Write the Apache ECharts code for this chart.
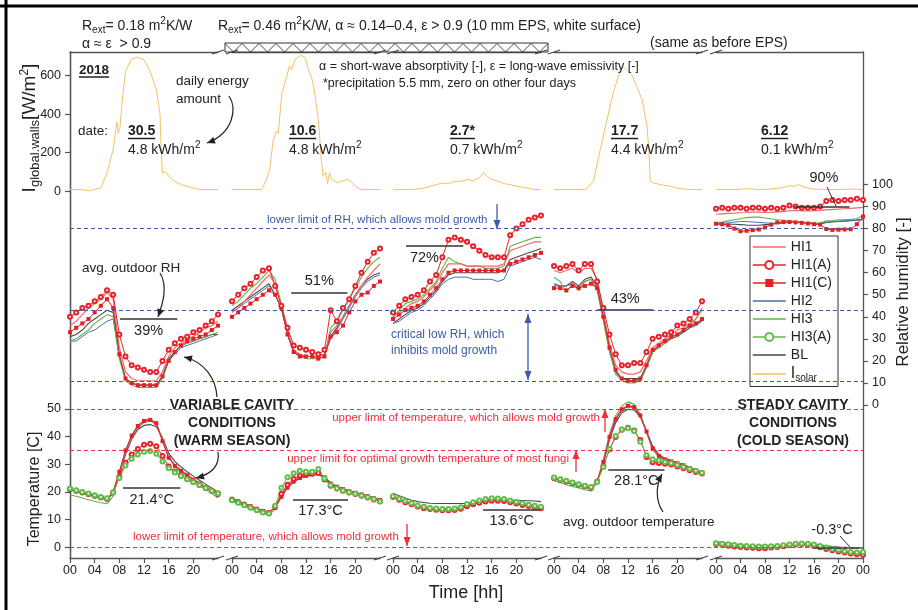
<!DOCTYPE html>
<html><head><meta charset="utf-8">
<script src="https://cdn.jsdelivr.net/npm/echarts@6/dist/echarts.min.js"></script>
<style>html,body{margin:0;padding:0;background:#fff}#c{width:918px;height:610px}</style>
</head><body><div id="c"></div>
<script>
// ---------------- DATA ----------------
const HOURS = [0,1,2,3,4,5,6,7,8,9,10,11,12,13,14,15,16,17,18,19,20,21,22,23,24];
const DATES = ['30.5','10.6','2.7*','17.7','6.12'];
const ENERGY = ['4.8','4.8','0.7','4.4','0.1'];
const I_TICKS = [0,200,400,600];
const RH_TICKS = [0,10,20,30,40,50,60,70,80,90,100];
const T_TICKS = [0,10,20,30,40,50];
const X_TICKS = [0,4,8,12,16,20];
const X_TICKS_LAST = [0,4,8,12,16,20,24];
const AVG_RH = [39,51,72,43,90];
const AVG_T = [21.4,17.3,13.6,28.1,-0.3];
const RH_LIMITS = [80,43,10.6];
const T_LIMITS = [50,35,0];

// relative humidity [%], hourly, one row per day
const RH_HI1A = [
 [40,42,44,45,47,49,52,50,32,22,18,17,16,15,15,20,25,28,30,31,33,34,36,38,41],
 [47,50,53,55,58,61,62,54,45,35,27,26,25,24,23,25,43,38,44,48,54,60,65,69,71],
 [42,45,48,49,50,52,56,59,67,75,76,75,74,72,70,68,67,67,67,77,80,82,84,85,86],
 [63,62,63,64,61,64,64,56,44,32,23,18,18,19,19,24,30,31,32,33,36,37,39,42,47],
 [89,89.5,89,89.5,89.5,89,89.5,89.5,89,89.5,89,89.5,90.5,90,89.5,89.5,89.5,90,92.5,93,92.5,93,93,93.5,93]
];
const RH_HI1 = [
 [36,38,41,44,46,48,51,48,26,15,12,11,11,11,11,15,22,26,28,30,31,33,35,36,38],
 [42,44,47,50,53,56,59,55,45,33,25,23,22,22,22,23,33,36,40,45,50,54,58,61,64],
 [40,42,44,46,47,49,52,55,60,64,64,64,63,63,63,63,63,63,64,70,71,72,73,74,74],
 [61,60,61,62,60,62,62,57,42,28,18,15,14,14,15,20,26,28,30,32,34,35,37,39,44],
 [86.5,86.7,86.9,87,87.2,87.3,87.5,87.5,87.3,87.4,87.6,87.8,88,88.2,88,88,88.1,88.3,88.5,88.7,88.8,89,89.2,89.4,89.6]
];
const RH_HI1C = [
 [33,35,37,39,42,45,48,44,23,12,10,9,9,9,9,13,20,24,27,29,30,31,32,34,36],
 [40,42,44,46,48,50,52,50,44,32,24,22,22,22,21,22,31,33,36,42,47,50,51,54,56],
 [39,41,43,44,45,47,50,53,57,60,61,61,61,61,61,61,61,61,61,64,65,66,67,68,69],
 [53,53,52,54,53,54,55,53,40,26,16,12,11,11,12,18,25,27,29,31,32,34,36,37,39],
 [82.2,82,81.5,80,78.8,79,79.3,79.6,80.5,81.8,82.8,83,83,82.8,82.6,82.3,82,81.8,79.8,79.4,79.5,79.6,79.7,82,85.5]
];
const RH_HI2 = [
 [29,29,31,33,34,36,38,39,22,12,10,9,9,9,9,13,20,23,26,27,28,29,30,31,32],
 [42,44,46,48,50,52,54,50,44,32,24,22,22,22,22,23,30,34,39,44,49,53,56,58,59],
 [37,38,40,42,43,45,48,51,55,57,58,58,58,57,57,57,57,56,57,63,64,65,66,67,66],
 [54,54,54,55,53,56,57,53,40,25,15,12,11,11,11,17,24,26,28,30,31,33,35,36,38],
 [82.4,82.5,82.6,83,83.2,83.2,83,82.8,82.6,82.4,82.5,82.8,83,83,82.8,82.6,82.4,82.3,83,83.2,83.4,83.5,83.7,84,84.3]
];
const RH_HI3 = [
 [29,30,32,34,37,39,41,40,21,11,9,8,8,8,8,12,20,24,27,28,29,30,31,32,33],
 [45,47,50,53,55,58,61,57,46,33,24,22,21,21,21,22,35,38,43,48,53,58,62,65,67],
 [40,43,46,47,48,50,53,56,62,67,65,64,63,63,63,62,62,62,63,72,73,74,75,76,76],
 [58,56,51,55,52,56,57,52,38,24,14,11,10,10,11,17,24,26,28,30,32,34,36,39,43],
 [82.7,83,83.5,84,84.5,85,85.2,85.2,84.8,84.5,84,83.8,83.5,83.3,83,82.8,82.6,82.5,83.5,83.7,84,84,84.2,84.5,86]
];
const RH_BL = [
 [31,32,34,37,39,41,43,42,22,12,10,9,9,9,9,13,21,24,27,28,29,30,31,32,32],
 [43,45,47,49,51,53,55,50,44,32,24,23,22,22,22,23,31,35,40,45,50,54,57,59,60],
 [37,39,41,43,44,46,49,52,56,59,60,60,60,60,60,60,60,60,61,66,67,68,69,70,71],
 [55,54,54,56,54,57,58,54,40,25,15,12,12,12,12,18,24,27,29,30,32,33,35,37,38],
 [82,82,82,82,81.8,81.6,81.5,81.5,81.8,82,82.3,82.6,83,83,82.8,82.5,82.3,82,82.8,83,83.2,83.4,83.6,83.8,84]
];

// temperature [C], hourly, one row per day
const T_HI1 = [
 [20.9,20.3,19.7,19.1,18.5,17.9,17.4,20.2,27,34.5,39.8,43.3,45.3,45.8,44.5,38.5,32.5,29.6,27.8,26.1,24.6,23.2,21.8,20.4,19],
 [17.3,16.4,15.5,14.6,13.7,12.9,12.5,14.5,18.8,22,24,25.2,25.9,26.3,26.6,25,22.8,21.7,20.8,20.1,19.5,18.9,18.3,17.6,16.9],
 [18.3,17.4,16.5,15.7,14.9,14.4,14.1,13.9,13.7,13.8,13.9,14.3,15.3,15.9,16.5,16.9,17.1,17.1,17,16.6,16.1,15.6,15.2,14.8,14.4],
 [24.9,24.3,23.7,23.1,22.5,21.9,21.4,24,31,40,46.5,50,51.2,50.6,47.5,41.5,35.5,32.8,31.6,30.9,30.3,29.6,28.6,27.8,26.8],
 [1.4,1.2,1,0.8,0.6,0.4,0.3,0.2,0.2,0.3,0.4,0.6,0.8,1.1,1.2,1.1,0.8,0.3,-0.3,-0.8,-1.2,-1.6,-1.9,-2.2,-2.4]
];
const T_HI1C = [
 [20.8,20.2,19.6,19,18.4,17.8,17.3,20,27.3,35,40.3,43.8,45.6,46,44.8,38.3,32.3,29.4,27.6,26,24.4,23,21.6,20.2,18.9],
 [17.5,16.6,15.7,14.8,13.9,13.1,12.7,14.2,18.2,21.5,23.7,25,25.8,26.3,26.8,25.3,23,21.9,21,20.3,19.7,19.1,18.5,17.8,17.1],
 [18.4,17.5,16.6,15.8,15,14.5,14.2,14,13.8,13.9,14,14.4,15.4,16,16.6,17,17.2,17.2,17.1,16.7,16.2,15.7,15.3,14.9,14.5],
 [24.8,24.2,23.6,23,22.4,21.8,21.3,23.8,30.8,39.8,46.3,49.8,51.1,50.6,47.6,41.8,35.8,33,31.7,31,30.3,29.6,28.6,27.8,26.8],
 [1.5,1.3,1.1,0.9,0.7,0.5,0.4,0.3,0.3,0.4,0.5,0.7,0.9,1.2,1.3,1.2,0.9,0.4,-0.2,-0.7,-1.1,-1.5,-1.8,-2.1,-2.3]
];
const T_HI2 = [
 [20.7,20.1,19.5,18.9,18.3,17.7,17.2,19.6,26.5,34,39.5,43,45,45.6,44.3,38.8,32.8,29.8,28,26.3,24.7,23.3,21.9,20.5,19.1],
 [17.3,16.4,15.5,14.6,13.7,12.9,12.4,14.4,18.6,21.8,23.8,25,25.7,26.1,26.4,24.8,22.6,21.5,20.6,19.9,19.3,18.7,18.1,17.4,16.7],
 [18.3,17.4,16.5,15.7,14.9,14.4,14.1,13.9,13.7,13.8,13.9,14.3,15.3,15.9,16.5,16.9,17.1,17.1,17,16.6,16.1,15.6,15.2,14.8,14.4],
 [24.6,24,23.4,22.8,22.2,21.6,21.1,23.6,30.5,39.5,46,49.5,50.8,50.3,47.2,41.5,35.5,32.8,31.5,30.8,30.2,29.5,28.5,27.7,26.6],
 [1.4,1.2,1,0.8,0.6,0.4,0.3,0.2,0.2,0.3,0.4,0.6,0.8,1.1,1.2,1.1,0.8,0.3,-0.3,-0.8,-1.2,-1.6,-1.9,-2.2,-2.4]
];
const T_HI3 = [
 [19,18.4,17.8,17.2,16.6,16.1,15.7,18.5,26.5,35,40.5,44,46,46.4,45,38.5,32.5,29.2,27,25.3,23.8,22.4,20.9,19.4,17.8],
 [16.6,15.7,14.8,13.9,13,12.2,11.7,13.7,18.6,22.2,24.3,25.5,26.2,26.5,26.7,24.9,22.6,21.4,20.5,19.8,19.2,18.6,18,17.3,16.5],
 [18.2,17.3,16.4,15.6,14.8,14.3,14,13.8,13.6,13.7,13.8,14.2,15.2,15.8,16.4,16.8,17,17,16.9,16.5,16,15.5,15.1,14.7,14.3],
 [24,23.3,22.6,22,21.4,20.8,20.3,23.5,31.5,41,47.5,51,52.5,51.6,48,41.8,35.3,32.5,31.3,30.6,30,29.3,28.3,27.4,26.3],
 [1.3,1.1,0.9,0.7,0.5,0.3,0.2,0.1,0.1,0.2,0.3,0.5,0.7,1,1.1,1,0.7,0.2,-0.4,-0.9,-1.3,-1.7,-2,-2.3,-2.5]
];
const T_BL = [
 [20.8,20.2,19.6,19,18.4,17.8,17.3,19.5,26,33.5,39,42.5,44,44.3,43.5,39.5,34,31,29,27.3,25.7,24.2,22.8,21.3,19.9],
 [17.6,16.7,15.8,14.9,14,13.2,12.8,14.4,18.3,21.5,23.6,24.9,25.6,26,26.3,25.2,23.3,22,21.1,20.4,19.8,19.2,18.6,17.9,17.2],
 [19.5,18.6,17.8,17,16.5,16.2,15.9,15.8,15.8,15.8,15.8,15.8,15.9,16.3,16.7,17.1,17.3,17.2,17.1,17,17,16.9,16.8,16.7,16.5],
 [25,24.4,23.8,23.2,22.6,22,21.5,23.8,30.3,38.8,45,48.6,49.8,49.6,47,42,36.5,33.5,32.1,31.3,30.6,29.9,28.9,28.1,27.1],
 [2,1.7,1.4,1.1,0.9,0.7,0.6,0.5,0.5,0.5,0.6,0.7,0.9,1.1,1.2,1.2,1.1,0.8,0.5,0.3,0.1,0,-0.1,-0.2,-0.3]
];
const T_HI1A = [
 [21,20.4,19.8,19.2,18.6,18,17.5,19.8,25.5,30.5,33.5,35.5,37,37.4,36.5,33,29.2,27.4,25.9,24.7,23.6,22.5,21.4,20.4,19.4],
 [17.2,16.3,15.4,14.5,13.6,12.8,12.4,14.6,19.2,22.6,24.7,25.9,26.4,26.6,26.8,24.5,22.2,21.2,20.4,19.8,19.2,18.6,18,17.3,16.6],
 [18.2,17.2,16.3,15.5,14.7,14.1,13.8,13.6,13.4,13.4,13.5,13.9,14.8,15.5,16.1,16.5,16.8,16.8,16.7,16.3,15.8,15.3,14.9,14.5,14.1],
 [25,24.4,23.8,23.2,22.6,22,21.5,23.8,29.3,35.3,39.8,42.4,43.2,42.2,38.7,32.6,30.7,30.4,30.2,29.9,29.2,28.5,27.8,27.2,26.6],
 [1.2,0.9,0.6,0.3,0.1,-0.1,-0.2,-0.3,-0.3,-0.1,0.1,0.4,0.7,1,1.1,0.9,0.5,0,-0.6,-1.1,-1.5,-1.9,-2.2,-2.5,-2.7]
];
const T_HI3A = [
 [21.2,20.6,20,19.4,18.8,18.2,17.7,19.8,25,29.5,32,33.5,34.5,34.8,33.8,31,28.5,27,25.7,24.6,23.6,22.5,21.4,20.4,19.4],
 [17,16.1,15.2,14.3,13.4,12.6,12.2,15,21.5,25.3,26.7,27.6,27.3,27.3,28.3,24.8,22.4,21.3,20.5,19.9,19.3,18.7,18.1,17.4,16.5],
 [18.4,17.5,16.7,15.9,15.1,14.6,14.2,14,13.8,13.8,14,14.5,15.6,16.3,16.9,17.4,17.7,17.6,17.4,16.9,16.4,15.9,15.4,15,14.6],
 [25.2,24.6,24,23.4,22.8,22.2,21.8,23.6,29,35.5,40.2,42.5,43,42,38.1,33.2,31.8,31.3,30.8,30.3,29.7,29,28.3,27.6,26.9],
 [1.5,1.3,1.1,0.8,0.6,0.5,0.4,0.3,0.3,0.4,0.5,0.7,1,1.3,1.4,1.3,1,0.5,-0.1,-0.6,-1,-1.4,-1.7,-1.9,-1.7]
];

// global irradiance on walls [W/m2], [hour, value]
const SOLAR = [
 [[0,10],[2,8],[3,2],[4,10],[5,18],[6,95],[7,216],[7.6,360],[7.8,300],[8.1,330],[8.5,480],[9,622],[10,686],[11,696],[12,682],[13,622],[14,527],[14.6,400],[14.8,200],[15,95],[15.5,103],[16,78],[17,52],[18,35],[19,26],[20,17],[21,9],[24,9]],
 [[0,9],[4.8,9],[5.1,17],[5.6,61],[6.1,112],[6.7,268],[7.2,311],[7.5,300],[8.1,510],[8.9,596],[9.3,650],[9.7,631],[10.2,682],[10.8,699],[11.3,703],[11.5,712],[11.9,691],[12.4,631],[13,579],[13.5,492],[14,371],[14.5,156],[14.8,78],[15.2,100],[15.5,40],[15.8,95],[16.2,61],[17,45],[17.8,52],[18.6,61],[19.3,50],[20,26],[21,9],[24,9]],
 [[0,9],[3,9],[5,17],[6,26],[7,35],[8,43],[9,40],[10,52],[11,52],[12,61],[13,55],[14,70],[14.7,98],[15.2,80],[16,62],[17,52],[18,40],[19,35],[20,26],[21,22],[22,15],[23,9],[24,9]],
 [[0,9],[5,9],[5.5,20],[6.4,52],[7.5,216],[8.6,371],[9.6,510],[10.7,622],[11.1,650],[11.4,639],[11.8,630],[12.6,605],[13.4,544],[14.3,475],[15.1,337],[15.4,200],[15.6,52],[16.2,43],[17.2,35],[18,30],[19,26],[19.9,17],[21,12],[22.7,9],[24,9]],
 [[0,9],[3,9],[5,14],[7,9],[9,12],[11,20],[12,30],[12.7,26],[13.5,35],[14.5,20],[16,12],[18,10],[20,9],[22,12],[24,9]]
];

// ---------------- LAYOUT / STYLE ----------------
const FONT = 'Liberation Sans, Arial, Helvetica, sans-serif';
const GRID_LEFT = [70,232,393,554,716];
const GRID_W = [148,148,148,148,147];
const TOP = 52, H = 506;
const AX = {lineStyle:{color:'#555', width:1.3}};
const I_RANGE = [-1900, 722];
const RH_RANGE = [-69.4, 160.1];
const T_RANGE = [-3.86, 178.8];
const AVG_RH_SPAN = [[8.1,17.4],[9.6,18.7],[2.1,11.4],[7,16.1],[12.8,21.8]];
const AVG_T_SPAN = [[8.6,17.9],[9.9,18.8],[14.6,23.9],[8.8,17.9],[16.1,23.4]];
const AVG_RH_POS = ['insideMiddleBottom','insideMiddleTop','insideStartBottom','insideMiddleTop',null];
const AVG_T_POS = ['insideMiddleBottom','insideMiddleBottom','insideMiddleBottom','insideMiddleBottom',null];
const DATE_OFF = [58,57,57,57,45];
const BLUE = '#3e5ba8', RED = '#ee2f3b', INK = '#222';
const LINE_ICON = 'path://M0,0L33,0L33,1.6L0,1.6Z';

const STYLE = {
 'HI1':{color:'#f06a6a', symbol:'none', width:1.2},
 'HI1(A)':{color:'#e8222b', symbol:'emptyCircle', size:4, width:1},
 'HI1(C)':{color:'#e41f26', symbol:'rect', size:4, width:1},
 'HI2':{color:'#4b6db5', symbol:'none', width:1},
 'HI3':{color:'#58b947', symbol:'none', width:1.1},
 'HI3(A)':{color:'#62bd4a', symbol:'emptyCircle', size:4, width:1},
 'BL':{color:'#4a4a4a', symbol:'none', width:1.1},
 'Isolar':{color:'#f2c165', symbol:'none', width:1}
};

// ---------------- BUILD ----------------
const grid = [], xAxis = [], yAxis = [], series = [];
for (let d=0; d<5; d++) grid.push({left:GRID_LEFT[d], top:TOP, width:GRID_W[d], height:H});
grid.push({left:GRID_LEFT[0], top:TOP, width:GRID_LEFT[4]+GRID_W[4]-GRID_LEFT[0], height:H});

for (let d=0; d<5; d++) {
  const tv = d===4 ? X_TICKS_LAST : X_TICKS;
  xAxis.push({gridIndex:d, type:'value', min:0, max:24, position:'bottom',
    axisLine:{show:true, onZero:false, ...AX}, splitLine:{show:false},
    axisTick:{show:true, customValues:tv, length:5, lineStyle:{color:'#555', width:1.2}},
    axisLabel:{customValues:tv, formatter:v=>String(v%24).padStart(2,'0'), fontSize:12.5, color:INK, margin:6, fontFamily:FONT}});
}
for (let d=0; d<5; d++) {
  xAxis.push({gridIndex:d, type:'value', min:0, max:24, position:'top',
    axisLine:{show:true, onZero:false, ...AX}, axisTick:{show:false}, axisLabel:{show:false}, splitLine:{show:false}});
}
xAxis.push({gridIndex:5, type:'value', min:0, max:1, show:false});

function yax(d, range, pos, ticks, show) {
  return {gridIndex:d, type:'value', min:range[0], max:range[1], position:pos, show:show,
    axisLine:{show:true, onZero:false, ...AX}, splitLine:{show:false},
    axisTick:{show:true, customValues:ticks, length:5, lineStyle:{color:'#555', width:1.2}},
    axisLabel:{customValues:ticks, fontSize:12.5, color:INK, margin:9, fontFamily:FONT}};
}
for (let d=0; d<5; d++) {
  yAxis.push(yax(d, I_RANGE, 'left', I_TICKS, d===0));
  yAxis.push(yax(d, RH_RANGE, 'right', RH_TICKS, d===4));
  yAxis.push(yax(d, T_RANGE, 'left', T_TICKS, d===0));
}
yAxis.push({gridIndex:5, type:'value', min:RH_RANGE[0], max:RH_RANGE[1], show:false});
yAxis.push({gridIndex:5, type:'value', min:T_RANGE[0], max:T_RANGE[1], show:false});

function mk(name, d, yIdx, data) {
  const st = STYLE[name];
  return {name, type:'line', xAxisIndex:d, yAxisIndex:yIdx, data,
    symbol:st.symbol, symbolSize:st.size||0, showSymbol:st.symbol!=='none',
    lineStyle:{color:st.color, width:st.width}, itemStyle:{color:st.color, borderWidth:0.9},
    emphasis:{disabled:true}, z:3, silent:true};
}
const RH_SET = [['BL',RH_BL],['HI2',RH_HI2],['HI3',RH_HI3],['HI1',RH_HI1],['HI1(C)',RH_HI1C],['HI1(A)',RH_HI1A]];
const T_SET = [['BL',T_BL],['HI2',T_HI2],['HI3',T_HI3],['HI1',T_HI1],['HI1(C)',T_HI1C],['HI1(A)',T_HI1A],['HI3(A)',T_HI3A]];

for (let d=0; d<5; d++) {
  series.push(mk('Isolar', d, 3*d, SOLAR[d]));
  RH_SET.forEach(([n,a]) => series.push(mk(n, d, 3*d+1, HOURS.map((h,i)=>[h, a[d][i]]))));
  T_SET.forEach(([n,a]) => series.push(mk(n, d, 3*d+2, HOURS.map((h,i)=>[h, a[d][i]]))));
  const mkAvg = (yIdx, v, span, pos, txt) => ({type:'line', name:'avg', xAxisIndex:d, yAxisIndex:yIdx, data:[], z:5, silent:true,
    markLine:{silent:true, symbol:['none','none'], animation:false,
      lineStyle:{color:'#333', width:1.5, type:'solid'},
      label:{show:!!pos, position:pos||'middle', formatter:txt, fontSize:14.5, color:INK, fontFamily:FONT, distance:4},
      data:[[{coord:[span[0], v]},{coord:[span[1], v]}]]}});
  series.push(mkAvg(3*d+1, AVG_RH[d], AVG_RH_SPAN[d], AVG_RH_POS[d], AVG_RH[d]+'%'));
  series.push(mkAvg(3*d+2, AVG_T[d], AVG_T_SPAN[d], AVG_T_POS[d], AVG_T[d].toFixed(1)+'°C'));
}
series.push({type:'line', name:'limRH', xAxisIndex:10, yAxisIndex:15, data:[], z:1, silent:true,
  markLine:{silent:true, symbol:['none','none'], animation:false, label:{show:false},
    lineStyle:{color:BLUE, width:1.1, type:[4,3]}, data:RH_LIMITS.map(v=>({yAxis:v}))}});
series.push({type:'line', name:'limT', xAxisIndex:10, yAxisIndex:16, data:[], z:1, silent:true,
  markLine:{silent:true, symbol:['none','none'], animation:false, label:{show:false},
    lineStyle:{color:RED, width:1.1, type:[4,3]}, data:T_LIMITS.map(v=>({yAxis:v}))}});

// ---------------- GRAPHIC ANNOTATIONS ----------------
const ctx = document.createElement('canvas').getContext('2d');
function tw(t, size, bold){ ctx.font = (bold?'bold ':'')+size+'px '+FONT; return ctx.measureText(t).width; }
const G = [];
function T(x,y,text,o){ G.push({type:'text', x, y, z:100, silent:true, rotation:(o&&o.rot)||0,
  style:Object.assign({text, fill:INK, fontSize:14, fontFamily:FONT, textAlign:'left', textVerticalAlign:'middle'}, o||{})}); }
function L(x1,y1,x2,y2,c,w){ G.push({type:'line', z:100, silent:true, shape:{x1,y1,x2,y2}, style:{stroke:c||INK, lineWidth:w||1.2}}); }
function head(tx,ty,fx,fy,c,len,w){ len=len||8; w=w||3.5; const dx=tx-fx, dy=ty-fy, m=Math.hypot(dx,dy)||1, ux=dx/m, uy=dy/m;
  const bx=tx-ux*len, by=ty-uy*len;
  G.push({type:'polygon', z:100, silent:true, shape:{points:[[tx,ty],[bx-uy*w,by+ux*w],[bx+uy*w,by-ux*w]]}, style:{fill:c||INK}}); }
function curve(p1,c1,c2,p2,col){ G.push({type:'bezierCurve', z:100, silent:true, shape:{x1:p1[0],y1:p1[1],cpx1:c1[0],cpy1:c1[1],cpx2:c2[0],cpy2:c2[1],x2:p2[0],y2:p2[1]}, style:{stroke:col||INK, lineWidth:1.2, fill:null}});
  head(p2[0],p2[1],c2[0],c2[1],col); }
function arrow(x,y1,y2,c,both){ L(x,y1,x,y2,c,1.3); head(x,y2,x,y1,c,9,3.5); if(both) head(x,y1,x,y2,c,9,3.5); }
const SUB = {s:{fontSize:10, padding:[9,0,0,0], fontFamily:FONT, fill:INK}, p:{fontSize:10, padding:[0,0,9,0], fontFamily:FONT, fill:INK}};

L(0,6,918,6,'#000',3); L(6,0,6,610,'#000',3);
G.push({type:'rect', z:2, silent:true, shape:{x:164,y:396,width:136,height:56}, style:{fill:'#fff'}});
G.push({type:'rect', z:2, silent:true, shape:{x:734,y:396,width:118,height:56}, style:{fill:'#fff'}});
G.push({type:'rect', z:100, silent:true, shape:{x:225,y:43,width:323,height:9}, style:{fill:'#fff', stroke:'#333', lineWidth:1}});
(function(){ const pts=[]; for(let x=225,i=0; x<=548.1; x+=8.5,i++) pts.push([x, i%2? 52:43.5]); G.push({type:'polyline', z:101, silent:true, shape:{points:pts}, style:{stroke:'#333', lineWidth:0.9, fill:null}}); })();
const GAPS = [[218,232],[380,393],[541,554],[702,716]];
GAPS.forEach(([a,b])=>{ [TOP, TOP+H].forEach(y=>{ [a,b].forEach(x=>{ L(x-6,y+2,x+6,y-2,'#444',1.1); }); }); });

T(82,26,'R{s|ext}= 0.18 m{p|2}K/W',{rich:SUB});
T(82,44,'α ≈ ε  > 0.9');
T(218,26,'R{s|ext}= 0.46 m{p|2}K/W, α ≈ 0.14–0.4, ε > 0.9 (10 mm EPS, white surface)',{rich:SUB});
T(650,43,'(same as before EPS)');
T(79,70,'2018',{fontWeight:'bold', fontSize:13.5}); L(79,77,79+tw('2018',13.5,true),77,INK,1.5);
T(176,81,'daily energy',{fontSize:13.5}); T(176,99,'amount',{fontSize:13.5});
T(319,67,'α = short-wave absorptivity [-], ε = long-wave emissivity [-]',{fontSize:12.5});
T(323,84,'*precipitation 5.5 mm, zero on other four days',{fontSize:12.5});
T(78,131,'date:',{fontSize:13.5});
for (let d=0; d<5; d++) {
  const x = GRID_LEFT[d]+DATE_OFF[d];
  T(x,131,DATES[d],{fontWeight:'bold', fontSize:14});
  L(x,138.5,x+tw(DATES[d],14,true),138.5,INK,1.5);
  T(x,150,ENERGY[d]+' kWh/m{p|2}',{fontSize:14, rich:SUB});
}
curve([229,96],[237,108],[234,133],[207,143]);

T(82,268,'avg. outdoor RH',{fontSize:13.5});
curve([160,273],[168,286],[163,303],[158,317]);
T(267,220,'lower limit of RH, which allows mold growth',{fontSize:11.5, fill:BLUE});
arrow(497,204,229,BLUE);
T(391,335,'critical low RH, which',{fontSize:12, fill:BLUE});
T(391,351,'inhibits mold growth',{fontSize:12, fill:BLUE});
arrow(528,314,380,BLUE,true);
T(824,178,AVG_RH[4]+'%',{fontSize:14.5, textAlign:'center'}); L(827,187,836,206,'#333',1);

T(232,396,'VARIABLE CAVITY\nCONDITIONS\n(WARM SEASON)',{fontWeight:'bold', fontSize:14, textAlign:'center', textVerticalAlign:'top', lineHeight:18});
T(793,396,'STEADY CAVITY\nCONDITIONS\n(COLD SEASON)',{fontWeight:'bold', fontSize:14, textAlign:'center', textVerticalAlign:'top', lineHeight:18});
curve([217,397],[216,379],[205,362],[184,357]);
curve([218,452],[220,466],[212,474],[196,478]);
T(600,418,'upper limit of temperature, which allows mold growth',{fontSize:11.5, fill:RED, textAlign:'right'});
arrow(605,432,409,RED);
T(569,459,'upper limit for optimal growth temperature of most fungi',{fontSize:11.5, fill:RED, textAlign:'right'});
arrow(576,472,450,RED);
T(133,537,'lower limit of temperature, which allows mold growth',{fontSize:11.5, fill:RED});
arrow(407,524,546,RED);
T(563,522,'avg. outdoor temperature',{fontSize:13.5});
curve([663,512],[655,500],[656,485],[662,474]);
T(832,530,AVG_T[4].toFixed(1)+'°C',{fontSize:14.5, textAlign:'center'}); L(840,536,850,547,'#333',1);

T(30,128,'{b|I}{s|global.walls}{b|[W/m}{p|2}{b|]}',{textAlign:'center', rot:Math.PI/2,
  rich:{b:{fontSize:19, fontFamily:FONT, fill:INK}, s:{fontSize:13, padding:[10,0,0,0], fontFamily:FONT, fill:INK}, p:{fontSize:12, padding:[0,0,10,0], fontFamily:FONT, fill:INK}}});
T(35,489,'Temperature [C]',{fontSize:16, textAlign:'center', rot:Math.PI/2});
T(903,292,'Relative humidity [-]',{fontSize:17, textAlign:'center', rot:Math.PI/2});
T(466,593,'Time [hh]',{fontSize:18, textAlign:'center'});

const LEG = ['HI1','HI1(A)','HI1(C)','HI2','HI3','HI3(A)','BL','Isolar'];
const option = {
  animation:false,
  textStyle:{fontFamily:FONT},
  grid, xAxis, yAxis, series,
  legend:{orient:'vertical', left:750, top:236, itemWidth:33, itemHeight:10, itemGap:4,
    padding:[4,6,3,2], backgroundColor:'#fff', borderColor:'#333', borderWidth:1, selectedMode:false,
    lineStyle:{width:1.6},
    data:LEG.map(n => STYLE[n].symbol==='none' ? {name:n, icon:LINE_ICON} : {name:n}),
    formatter:n=> n==='Isolar' ? '{i|I}{s|solar}' : n,
    textStyle:{fontSize:14, color:INK, fontFamily:FONT,
      rich:{i:{fontSize:16, color:INK, fontFamily:FONT}, s:{fontSize:10, color:INK, fontFamily:FONT, padding:[9,0,0,0]}}}},
  graphic:{elements:G}
};
const chart = echarts.init(document.getElementById('c'), null, {renderer:'canvas'});
chart.setOption(option);
</script>
</body></html>
